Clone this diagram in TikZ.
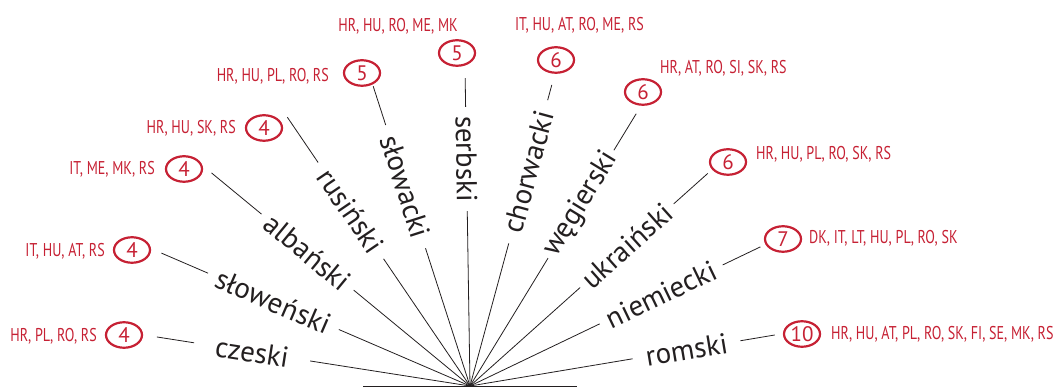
\documentclass[tikz,border=0pt]{standalone}
\usepackage{fontspec}
\setmainfont{PT Sans}
\newfontfamily\codefont[FakeStretch=0.76]{PT Sans}
\usetikzlibrary{shapes.geometric}
\definecolor{mapred}{RGB}{198,33,52}
\definecolor{ink}{RGB}{35,31,32}
\begin{document}
\begin{tikzpicture}[x=1pt,y=1pt,
  spoke/.style={draw=ink, line width=0.8pt},
  lang/.style={font=\fontsize{29}{29}\selectfont, text=ink, inner sep=0pt, minimum height=20pt},
  count/.style={ellipse, draw=mapred, line width=2.2pt, minimum width=36pt,
    minimum height=25.5pt, inner sep=0pt, text=mapred, font=\fontsize{21}{21}\selectfont},
  codes/.style={text=mapred, font=\codefont\fontsize{18.5}{18.5}\selectfont, inner sep=0pt}]
\useasboundingbox (0,0) rectangle (1054,390);
% hub of the fan and its base line
\coordinate (hub) at (470,4);
\coordinate (baseL) at (363,4);
\coordinate (baseR) at (577,4);
\draw[spoke] (baseL) -- (baseR);
% spokes: name / angle / label centre / label gap / spoke length / label
\foreach \name/\ang/\mid/\gap/\len/\word in {
    czeski/171.1/220.5/117/317/czeski,
    slowenski/156.7/214/142/336/słoweński,
    albanski/140.5/210.5/119/335/albański,
    rusinski/124.2/212/116/325/rusiński,
    slowacki/107.9/209.5/129/315/słowacki,
    serbski/90.9/227/104/308/serbski,
    chorwacki/74.8/222/148/312/chorwacki,
    wegierski/58.6/213/126/319/węgierski,
    ukrainski/41.8/210.5/125/319/ukraiński,
    niemiecki/25.6/212/136/322/niemiecki,
    romski/9.5/219.5/109/309/romski}{
  \pgfmathsetmacro\rot{\ang>90 ? \ang-180 : \ang}
  \coordinate (\name-end) at ([shift={(\ang:\len)}]hub);
  \node[lang, rotate=\rot, minimum width=\gap pt] (\name) at ([shift={(\ang:\mid)}]hub) {\word};
  \draw[spoke] (hub) -- (\name);
  \draw[spoke] (\name) -- (\name-end);
}
% counts and country codes
\node[count] (czeski-n) at (124,55) {4};
\node[codes, anchor=base east] (czeski-c) at (97,48.3) {HR, PL, RO, RS};
\node[count] (slowenski-n) at (132,140) {4};
\node[codes, anchor=base east] (slowenski-c) at (105,133.3) {IT, HU, AT, RS};
\node[count] (albanski-n) at (184,221) {4};
\node[codes, anchor=base east] (albanski-c) at (155,215) {IT, ME, MK, RS};
\node[count] (rusinski-n) at (264,262) {4};
\node[codes, anchor=base east] (rusinski-c) at (236,256) {HR, HU, SK, RS};
\node[count] (slowacki-n) at (362,317) {5};
\node[codes, anchor=base east] (slowacki-c) at (329,308.3) {HR, HU, PL, RO, RS};
\node[count] (serbski-n) at (457,337) {5};
\node[codes, anchor=base] (serbski-c) at (398,358.3) {HR, HU, RO, ME, MK};
\node[count] (chorwacki-n) at (556,330) {6};
\node[codes, anchor=base] (chorwacki-c) at (579.5,359.3) {IT, HU, AT, RO, ME, RS};
\node[count] (wegierski-n) at (643,298) {6};
\node[codes, anchor=base west] (wegierski-c) at (660,316) {HR, AT, RO, SI, SK, RS};
\node[count] (ukrainski-n) at (728,228) {6};
\node[codes, anchor=base west] (ukrainski-c) at (756,230.7) {HR, HU, PL, RO, SK, RS};
\node[count] (niemiecki-n) at (783,151) {7};
\node[codes, anchor=base west] (niemiecki-c) at (809,146) {DK, IT, LT, HU, PL, RO, SK};
\node[count] (romski-n) at (802,56) {10};
\node[codes, anchor=base west] (romski-c) at (831,50.7) {HR, HU, AT, PL, RO, SK, FI, SE, MK, RS};
\end{tikzpicture}
\end{document}
